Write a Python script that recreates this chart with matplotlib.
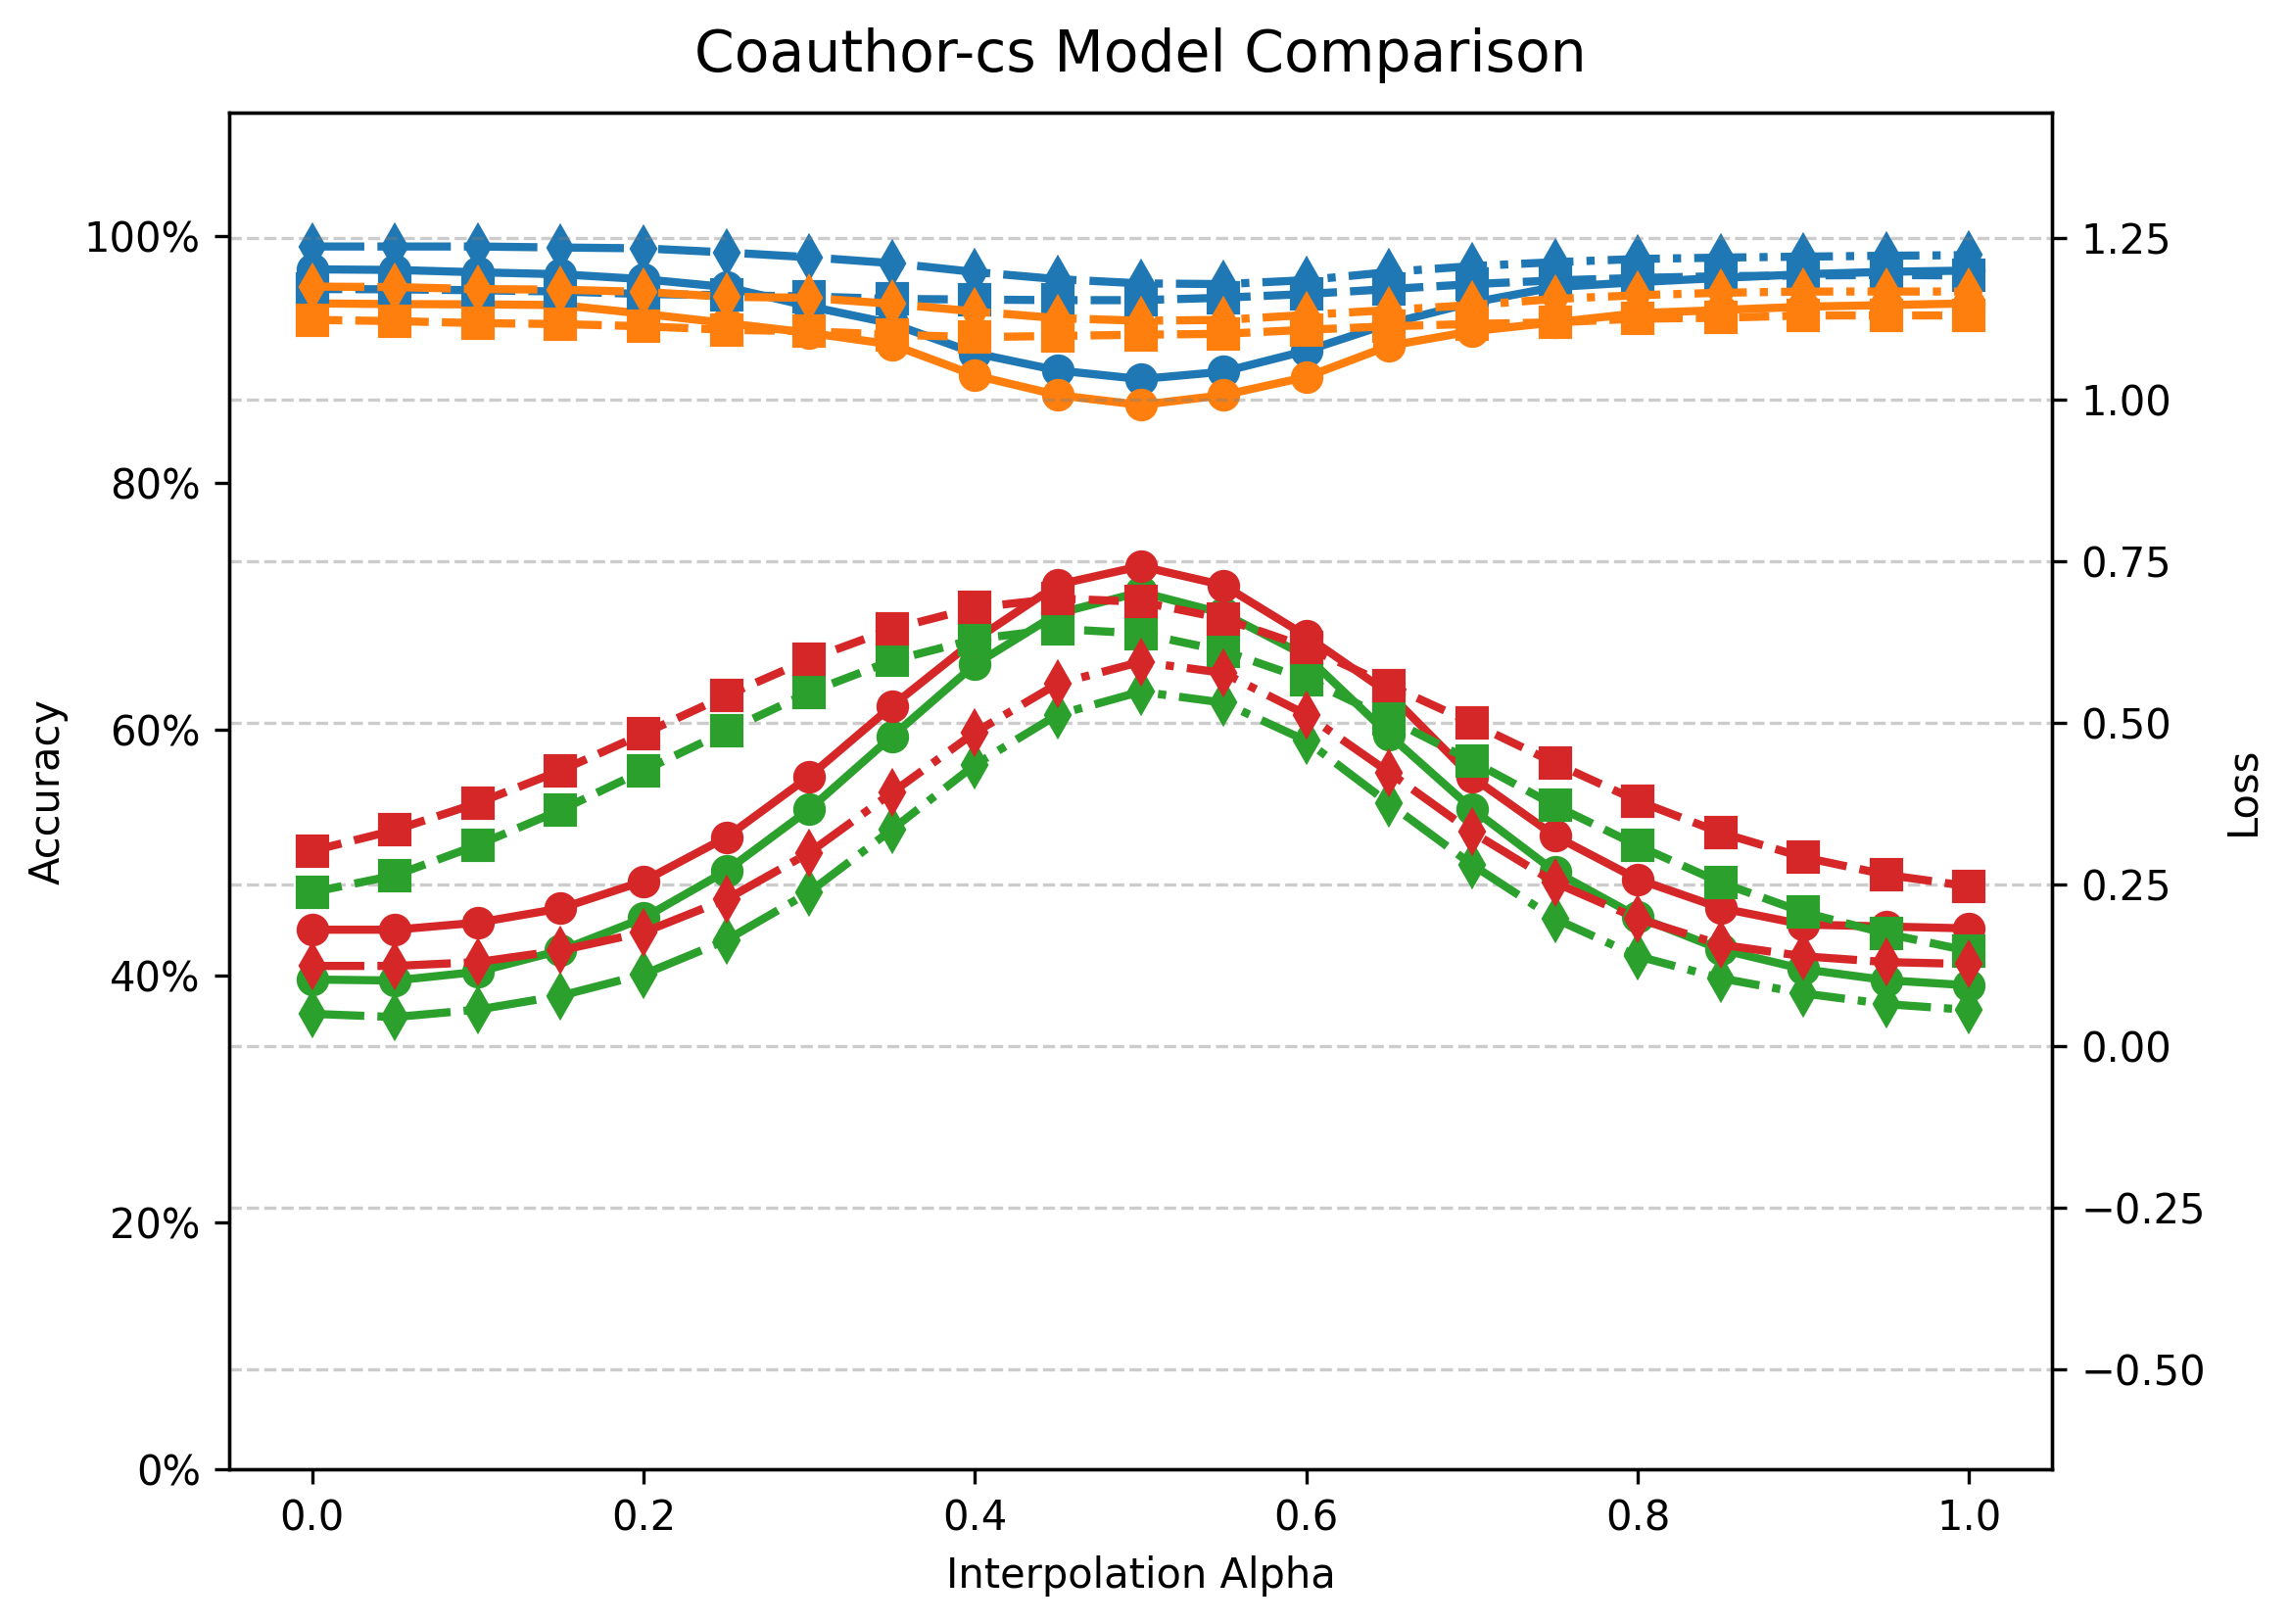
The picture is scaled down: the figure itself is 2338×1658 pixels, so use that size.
import numpy as np
import matplotlib
matplotlib.use("Agg")
import matplotlib.pyplot as plt
from matplotlib.ticker import PercentFormatter

alpha = np.round(np.arange(0, 1.0001, 0.05), 2)

# accuracy (left axis)
acc_blue_o = [0.973, 0.9725, 0.9706, 0.969, 0.965, 0.9586, 0.943, 0.929, 0.905, 0.891, 0.884,
              0.890, 0.907, 0.929, 0.946, 0.9586, 0.9626, 0.966, 0.969, 0.971, 0.972]
acc_blue_s = [0.957, 0.9568, 0.956, 0.955, 0.953, 0.952, 0.951, 0.949, 0.9485, 0.948, 0.948,
              0.950, 0.953, 0.957, 0.961, 0.964, 0.966, 0.9674, 0.968, 0.9684, 0.968]
acc_blue_d = [0.9915, 0.9915, 0.9915, 0.9907, 0.990, 0.9867, 0.9828, 0.978, 0.9708, 0.965, 0.9616,
              0.961, 0.9642, 0.9708, 0.9756, 0.9788, 0.9814, 0.9825, 0.9833, 0.984, 0.9845]
acc_orange_o = [0.9454, 0.9448, 0.9446, 0.944, 0.937, 0.9294, 0.9215, 0.912, 0.887, 0.871, 0.863,
                0.871, 0.8857, 0.911, 0.9228, 0.930, 0.9374, 0.940, 0.9427, 0.944, 0.9454]
acc_orange_s = [0.932, 0.931, 0.9294, 0.9286, 0.9268, 0.924, 0.9228, 0.920, 0.918, 0.919, 0.920,
                0.9207, 0.924, 0.9268, 0.9287, 0.930, 0.933, 0.9337, 0.9356, 0.9356, 0.9356]
acc_orange_d = [0.959, 0.9586, 0.957, 0.9565, 0.9547, 0.9507, 0.9499, 0.945, 0.9388, 0.9334, 0.9313,
                0.932, 0.936, 0.940, 0.944, 0.949, 0.952, 0.954, 0.955, 0.955, 0.955]

# loss (right axis)
loss_green_o = [0.103, 0.1015, 0.115, 0.148, 0.198, 0.271, 0.366, 0.479, 0.590, 0.669, 0.702,
                0.669, 0.603, 0.481, 0.367, 0.270, 0.200, 0.1495, 0.119, 0.102, 0.094]
loss_red_o = [0.180, 0.180, 0.191, 0.213, 0.255, 0.323, 0.417, 0.526, 0.628, 0.7135, 0.742,
              0.7125, 0.634, 0.545, 0.416, 0.325, 0.258, 0.2135, 0.188, 0.185, 0.182]
loss_green_s = [0.238, 0.264, 0.311, 0.365, 0.426, 0.487, 0.547, 0.596, 0.629, 0.645, 0.638,
                0.611, 0.567, 0.506, 0.4406, 0.372, 0.310, 0.253, 0.207, 0.174, 0.147]
loss_red_s = [0.302, 0.334, 0.376, 0.426, 0.483, 0.542, 0.598, 0.645, 0.678, 0.692, 0.687,
              0.661, 0.617, 0.558, 0.4995, 0.4376, 0.379, 0.330, 0.292, 0.265, 0.247]
loss_green_d = [0.050, 0.045, 0.0565, 0.078, 0.111, 0.164, 0.238, 0.335, 0.435, 0.5126, 0.548,
                0.531, 0.472, 0.375, 0.2805, 0.197, 0.139, 0.105, 0.0816, 0.065, 0.056]
loss_red_d = [0.124, 0.124, 0.130, 0.148, 0.176, 0.227, 0.299, 0.392, 0.485, 0.5605, 0.594,
              0.577, 0.5125, 0.423, 0.331, 0.253, 0.197, 0.157, 0.139, 0.130, 0.127]

acc_series = [(acc_blue_o, acc_orange_o, "o", "-"),
              (acc_blue_s, acc_orange_s, "s", "--"),
              (acc_blue_d, acc_orange_d, "d", "-.")]
loss_series = [(loss_green_o, loss_red_o, "o", "-"),
               (loss_green_s, loss_red_s, "s", "--"),
               (loss_green_d, loss_red_d, "d", "-.")]

fig, ax1 = plt.subplots(figsize=(2338 / 300, 1658 / 300), dpi=300)
ax2 = ax1.twinx()

for train, test, m, ls in acc_series:
    ax1.plot(alpha, train, color="tab:blue", marker=m, linestyle=ls, lw=2, markersize=7)
    ax1.plot(alpha, test, color="tab:orange", marker=m, linestyle=ls, lw=2, markersize=7)

for train, test, m, ls in loss_series:
    ax2.plot(alpha, train, color="tab:green", marker=m, linestyle=ls, lw=2, markersize=7)
    ax2.plot(alpha, test, color="tab:red", marker=m, linestyle=ls, lw=2, markersize=7)

ax1.set_ylim(0, 1.1)
ax1.yaxis.set_major_formatter(PercentFormatter(1.0, decimals=0))
ax1.set_ylabel("Accuracy")
ax1.set_xlabel("Interpolation Alpha")

ax2.set_ylim(-0.654, 1.443)
ax2.set_ylabel("Loss")
ax2.grid(True, linestyle="--", color="gray", alpha=0.4)

ax1.set_title("Coauthor-cs Model Comparison", fontsize=14, pad=10)

plt.subplots_adjust(left=0.1001, right=0.8961, bottom=0.0953, top=0.9306)
plt.savefig("out.png", dpi=300)
